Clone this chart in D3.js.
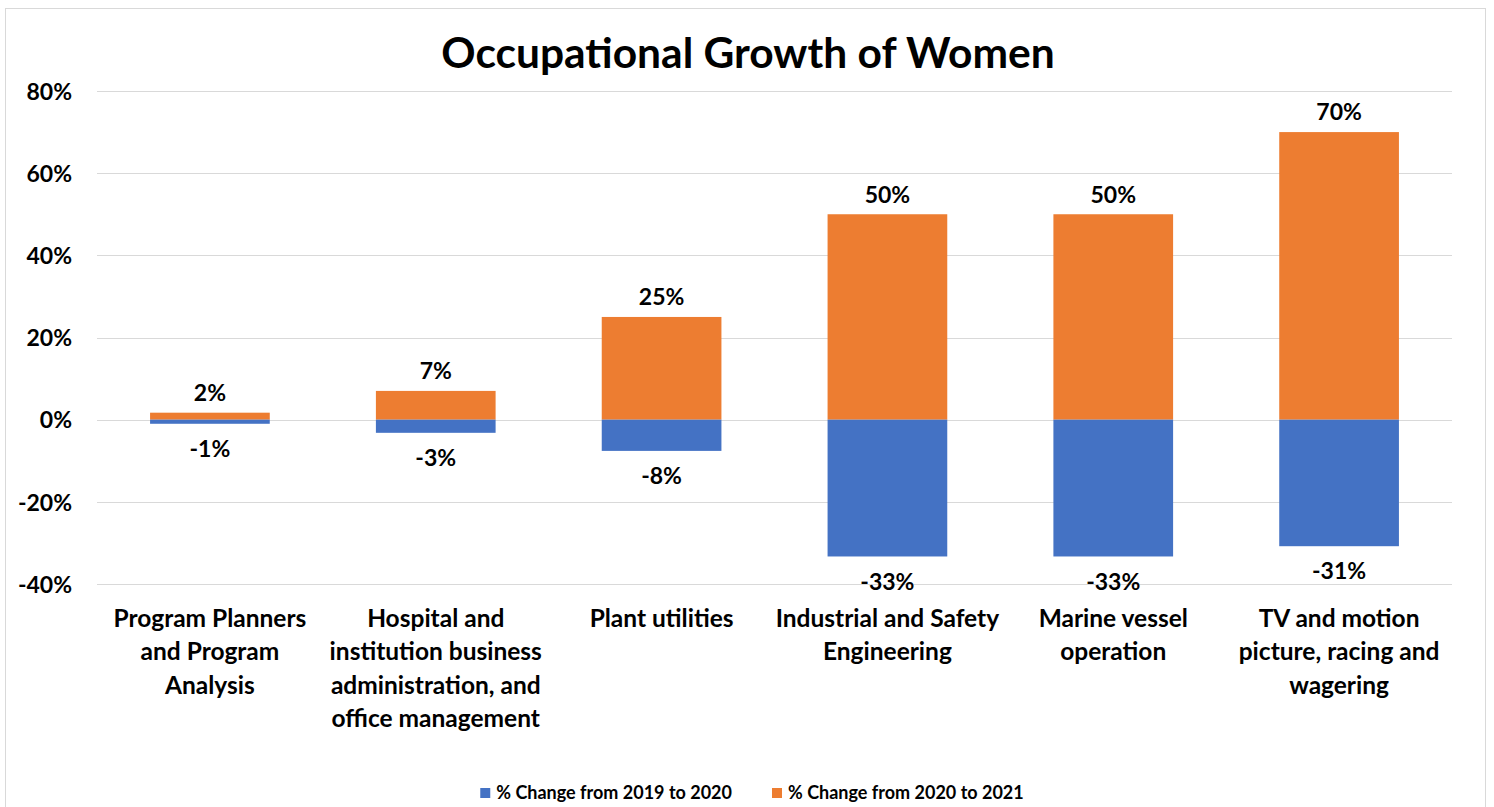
<!DOCTYPE html>
<html>
<head>
<meta charset="utf-8">
<script src="https://cdn.jsdelivr.net/npm/d3@7"></script>
<style>
  html, body { margin: 0; padding: 0; background: #fff; }
  svg { display: block; }
  text { font-family: Lato, "Noto Sans", sans-serif; font-weight: bold; fill: #000; }
</style>
</head>
<body>
<svg id="chart" width="1494" height="807"></svg>
<script>
// ---- data ----
const title = "Occupational Growth of Women";
const categories = [
  "Program Planners and Program Analysis",
  "Hospital and institution business administration, and office management",
  "Plant utilities",
  "Industrial and Safety Engineering",
  "Marine vessel operation",
  "TV and motion picture, racing and wagering"
];
const categoryLines = [
  ["Program Planners", "and Program", "Analysis"],
  ["Hospital and", "institution business", "administration, and", "office management"],
  ["Plant utilities"],
  ["Industrial and Safety", "Engineering"],
  ["Marine vessel", "operation"],
  ["TV and motion", "picture, racing and", "wagering"]
];
const seriesNames = ["% Change from 2019 to 2020", "% Change from 2020 to 2021"];
const change2019to2020 = [-1.0, -3.2, -7.6, -33.3, -33.3, -30.8];
const change2020to2021 = [1.7, 7.0, 25.0, 50.0, 50.0, 70.0];
const yTicks = [-40, -20, 0, 20, 40, 60, 80];
const colors = ["#4472C4", "#ED7D31"];

// ---- drawing ----
const svg = d3.select("#chart");

// chart border
svg.append("rect")
  .attr("x", 5.5).attr("y", 8.5)
  .attr("width", 1480).attr("height", 820)
  .attr("fill", "#fff").attr("stroke", "#d9d9d9").attr("stroke-width", 1);

const plot = { left: 97, right: 1452, top: 91, bottom: 584 };

const x = d3.scaleBand()
  .domain(categories)
  .range([plot.left, plot.right])
  .paddingInner(0.47)
  .paddingOuter(0.235);

const y = d3.scaleLinear()
  .domain([-40, 80])
  .range([plot.bottom, plot.top]);

// gridlines
svg.append("g")
  .selectAll("line")
  .data(yTicks)
  .join("line")
  .attr("x1", plot.left).attr("x2", plot.right)
  .attr("y1", d => Math.round(y(d)) + 0.5)
  .attr("y2", d => Math.round(y(d)) + 0.5)
  .attr("stroke", "#d9d9d9").attr("stroke-width", 1);

// y axis labels
const yAxis = d3.axisLeft(y).tickValues(yTicks).tickSize(0).tickPadding(0)
  .tickFormat(d => d + "%");
const yg = svg.append("g").attr("transform", `translate(72,0)`).call(yAxis);
yg.select(".domain").remove();
yg.selectAll("text")
  .attr("dy", "0.36em")
  .style("font-family", "Lato, 'Noto Sans', sans-serif")
  .style("font-weight", "bold")
  .style("font-size", "23px")
  .attr("fill", "#000");

// bars
const rows = categories.map((c, i) => ({ c, a: change2019to2020[i], b: change2020to2021[i] }));

svg.append("g").selectAll("rect")
  .data(rows)
  .join("rect")
  .attr("x", d => x(d.c))
  .attr("width", x.bandwidth())
  .attr("y", d => y(Math.max(0, d.b)))
  .attr("height", d => Math.abs(y(d.b) - y(0)))
  .attr("fill", colors[1]);

svg.append("g").selectAll("rect")
  .data(rows)
  .join("rect")
  .attr("x", d => x(d.c))
  .attr("width", x.bandwidth())
  .attr("y", d => y(Math.max(0, d.a)))
  .attr("height", d => Math.abs(y(d.a) - y(0)))
  .attr("fill", colors[0]);

// data labels
svg.append("g").selectAll("text")
  .data(rows)
  .join("text")
  .attr("x", d => x(d.c) + x.bandwidth() / 2)
  .attr("y", d => y(d.b) - 20)
  .attr("dy", "0.36em")
  .attr("text-anchor", "middle")
  .style("font-size", "23px")
  .text(d => Math.round(d.b) + "%");

svg.append("g").selectAll("text")
  .data(rows)
  .join("text")
  .attr("x", d => x(d.c) + x.bandwidth() / 2)
  .attr("y", d => y(d.a) + 25)
  .attr("dy", "0.36em")
  .attr("text-anchor", "middle")
  .style("font-size", "23px")
  .text(d => Math.round(d.a) + "%");

// category labels
const catG = svg.append("g").selectAll("text")
  .data(rows)
  .join("text")
  .attr("text-anchor", "middle")
  .style("font-size", "24.5px");
catG.each(function (d, i) {
  const t = d3.select(this);
  categoryLines[i].forEach((line, k) => {
    t.append("tspan")
      .attr("x", x(d.c) + x.bandwidth() / 2)
      .attr("y", 618 + k * 33.5)
      .attr("dy", "0.36em")
      .text(line);
  });
});

// title
svg.append("text")
  .attr("x", 748).attr("y", 53)
  .attr("dy", "0.36em")
  .attr("text-anchor", "middle")
  .style("font-size", "42.5px")
  .text(title);

// legend
const leg = svg.append("g");
const items = leg.selectAll("g").data(seriesNames).join("g");
items.append("rect").attr("width", 10).attr("height", 10).attr("y", 788)
  .attr("fill", (d, i) => colors[i]);
items.append("text").attr("y", 793).attr("dy", "0.36em")
  .style("font-size", "18px").text(d => d);
let widths = [];
items.select("text").each(function () { widths.push(this.getComputedTextLength()); });
const sq = 10, gap = 6, spacing = 40;
const total = widths.reduce((s, w) => s + sq + gap + w, 0) + spacing;
let cx = 752 - total / 2;
items.each(function (d, i) {
  const g = d3.select(this);
  g.select("rect").attr("x", cx);
  g.select("text").attr("x", cx + sq + gap);
  cx += sq + gap + widths[i] + spacing;
});
</script>
</body>
</html>
